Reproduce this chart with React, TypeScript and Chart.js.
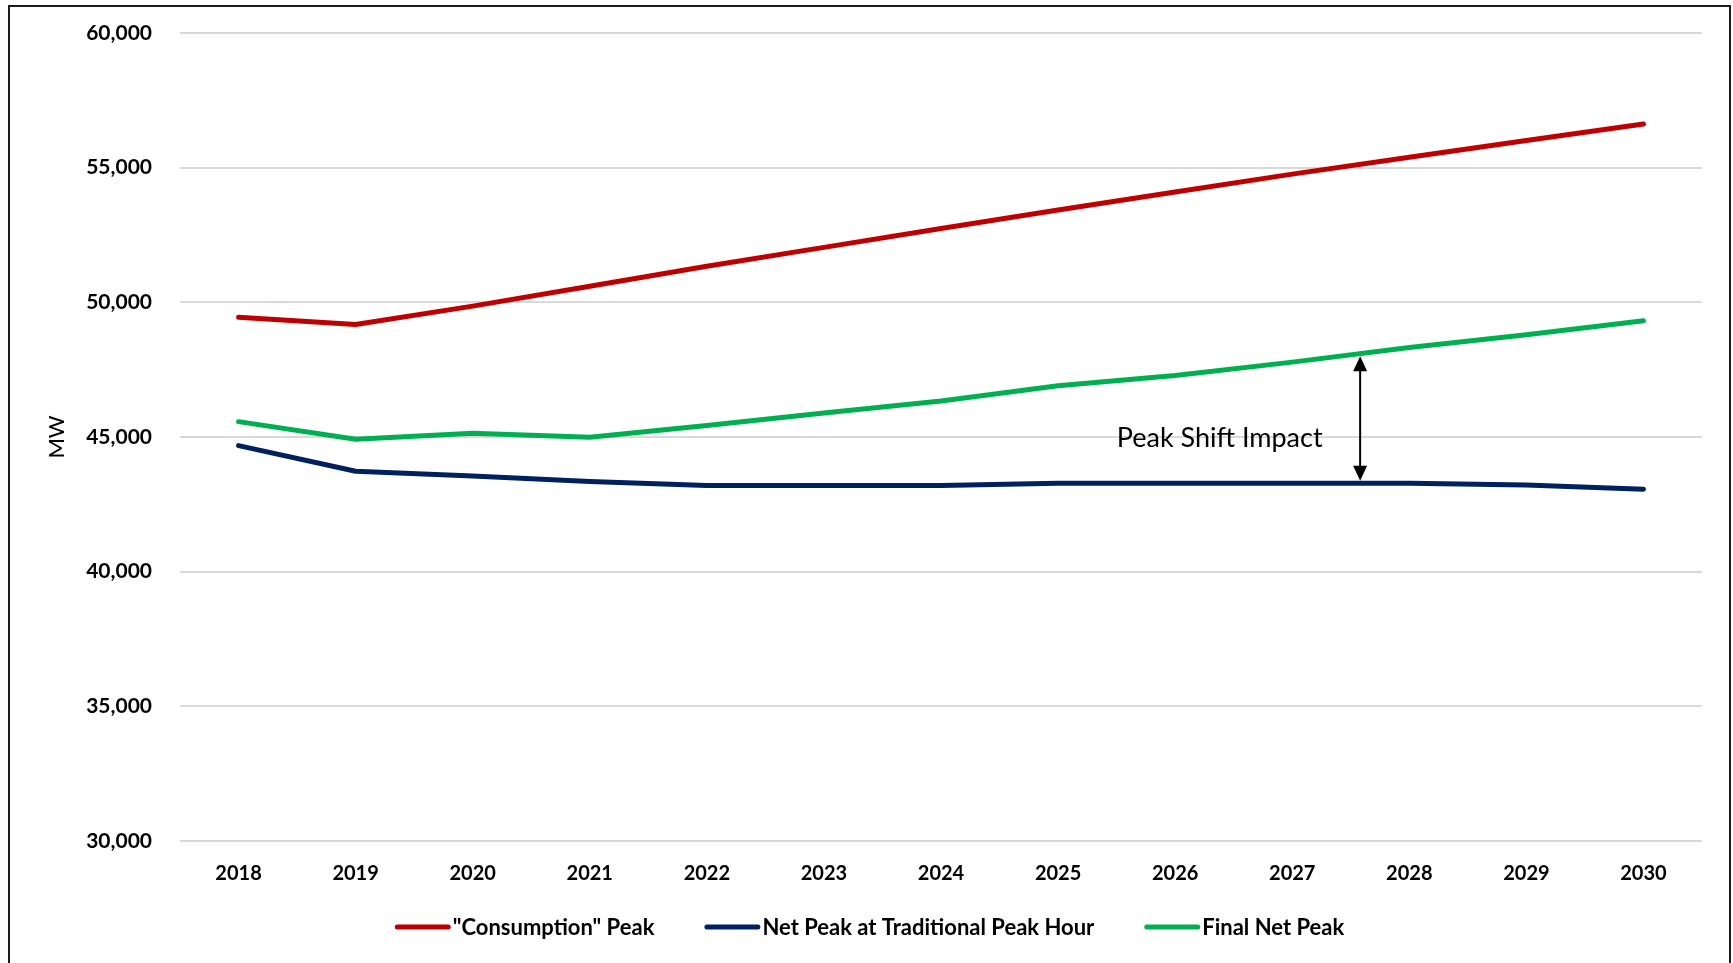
import React, { useEffect, useRef } from "react";
import { Chart, registerables } from "chart.js";

Chart.register(...registerables);

// Forecast years
const years = ["2018", "2019", "2020", "2021", "2022", "2023", "2024", "2025", "2026", "2027", "2028", "2029", "2030"];

// Peak demand series, MW
const consumptionPeak = [49450, 49180, 49860, 50600, 51340, 52040, 52740, 53430, 54100, 54760, 55390, 56010, 56620];
const netPeakTraditionalHour = [44680, 43730, 43550, 43350, 43200, 43200, 43200, 43280, 43280, 43280, 43280, 43220, 43060];
const finalNetPeak = [45570, 44920, 45140, 44990, 45430, 45890, 46340, 46900, 47280, 47780, 48320, 48800, 49320];

const seriesNames = ['"Consumption" Peak', "Net Peak at Traditional Peak Hour", "Final Net Peak"];
const seriesColors = ["#C00000", "#002060", "#00B050"];

// Value axis ticks
const yTicks = [30000, 35000, 40000, 45000, 50000, 55000, 60000];

// Annotation: gap between the two net peak lines
const annotationText = "Peak Shift Impact";
const arrowAtIndex = 9.58;
const textAtIndex = 8.38;
const textAtValue = 44950;

const FONT = "Lato, 'Open Sans', sans-serif";

const lerpSeries = (arr: number[], t: number) => {
  const i = Math.min(Math.floor(t), arr.length - 2);
  const f = t - i;
  return arr[i] + (arr[i + 1] - arr[i]) * f;
};

const shiftAnnotation = {
  id: "shiftAnnotation",
  afterDatasetsDraw(chart: any) {
    const { ctx, scales } = chart;
    const xs = scales.x;
    const ys = scales.y;
    const half = 2.5;
    const px = xs.getPixelForValue(arrowAtIndex);
    const top = ys.getPixelForValue(lerpSeries(finalNetPeak, arrowAtIndex)) + half;
    const bottom = ys.getPixelForValue(lerpSeries(netPeakTraditionalHour, arrowAtIndex)) - half;
    const headH = 15;
    const headW = 14;
    ctx.save();
    ctx.strokeStyle = "#000";
    ctx.fillStyle = "#000";
    ctx.lineWidth = 2;
    ctx.beginPath();
    ctx.moveTo(px, top + headH - 2);
    ctx.lineTo(px, bottom - headH + 2);
    ctx.stroke();
    ctx.beginPath();
    ctx.moveTo(px, top);
    ctx.lineTo(px - headW / 2, top + headH);
    ctx.lineTo(px + headW / 2, top + headH);
    ctx.closePath();
    ctx.fill();
    ctx.beginPath();
    ctx.moveTo(px, bottom);
    ctx.lineTo(px - headW / 2, bottom - headH);
    ctx.lineTo(px + headW / 2, bottom - headH);
    ctx.closePath();
    ctx.fill();

    ctx.font = `27px ${FONT}`;
    ctx.textAlign = "center";
    ctx.textBaseline = "middle";
    ctx.fillText(annotationText, xs.getPixelForValue(textAtIndex), ys.getPixelForValue(textAtValue));
    ctx.restore();
  },
};

const lineLegend = {
  id: "lineLegend",
  afterDraw(chart: any) {
    const { ctx } = chart;
    const swatch = 51;
    const cap = 2.5;
    const gap = 2;
    const spacing = 50;
    ctx.save();
    ctx.font = `bold 22px ${FONT}`;
    const items = chart.data.datasets.map((ds: any) => ({
      label: ds.label as string,
      color: ds.borderColor as string,
      w: ctx.measureText(ds.label).width,
    }));
    const itemW = (it: any) => swatch + cap * 2 + gap + it.w;
    const total = items.reduce((s: number, it: any) => s + itemW(it), 0) + spacing * (items.length - 1);
    let x = chart.width / 2 - total / 2;
    const y = chart.height - 36;
    ctx.textBaseline = "middle";
    ctx.textAlign = "left";
    items.forEach((it: any) => {
      ctx.strokeStyle = it.color;
      ctx.lineWidth = 5;
      ctx.lineCap = "round";
      ctx.beginPath();
      ctx.moveTo(x + cap, y);
      ctx.lineTo(x + cap + swatch, y);
      ctx.stroke();
      ctx.fillStyle = "#000";
      ctx.fillText(it.label, x + cap * 2 + swatch + gap, y + 1);
      x += itemW(it) + spacing;
    });
    ctx.restore();
  },
};

export default function App() {
  const canvasRef = useRef<HTMLCanvasElement | null>(null);

  useEffect(() => {
    if (!canvasRef.current) return;
    const seriesData = [consumptionPeak, netPeakTraditionalHour, finalNetPeak];
    const chart = new Chart(canvasRef.current, {
      type: "line",
      data: {
        labels: years,
        datasets: seriesNames.map((name, i) => ({
          label: name,
          data: seriesData[i],
          borderColor: seriesColors[i],
          backgroundColor: seriesColors[i],
          borderWidth: 5,
          borderCapStyle: "round",
          borderJoinStyle: "round",
          pointRadius: 0,
          tension: 0,
          fill: false,
        })),
      },
      options: {
        animation: false,
        responsive: false,
        maintainAspectRatio: false,
        layout: { padding: { left: 0, right: 27, top: 26, bottom: 60 } },
        plugins: {
          legend: { display: false },
          tooltip: { enabled: false },
        },
        scales: {
          x: {
            offset: true,
            grid: { display: false, drawTicks: false },
            border: { display: false },
            ticks: {
              color: "#000",
              padding: 21,
              font: { family: FONT, size: 20, weight: "bold" },
            },
            afterFit: (axis: any) => {
              axis.height = 62;
            },
          },
          y: {
            min: 30000,
            max: 60000,
            afterBuildTicks: (axis: any) => {
              axis.ticks = yTicks.map((v) => ({ value: v }));
            },
            grid: { color: "#d9d9d9", lineWidth: 2, drawTicks: false },
            border: { display: false },
            ticks: {
              color: "#000",
              padding: 28,
              font: { family: FONT, size: 21, weight: "bold" },
              callback: (v: any) => Number(v).toLocaleString("en-US"),
            },
            title: {
              display: true,
              text: "MW",
              color: "#000",
              font: { family: FONT, size: 22 },
              padding: { top: 34, bottom: 0 },
            },
            afterFit: (axis: any) => {
              axis.width = 170;
              axis.paddingTop = 0;
              axis.paddingBottom = 0;
            },
          },
        },
      },
      plugins: [shiftAnnotation, lineLegend],
    });
    return () => chart.destroy();
  }, []);

  return (
    <div
      style={{
        position: "fixed",
        left: 8,
        top: 5,
        width: 1723,
        height: 958,
        borderTop: "2px solid #1a1a1a",
        borderLeft: "2px solid #1a1a1a",
        borderRight: "2px solid #1a1a1a",
        boxSizing: "border-box",
        background: "#fff",
      }}
    >
      <canvas ref={canvasRef} width={1719} height={956} style={{ display: "block" }} />
    </div>
  );
}
